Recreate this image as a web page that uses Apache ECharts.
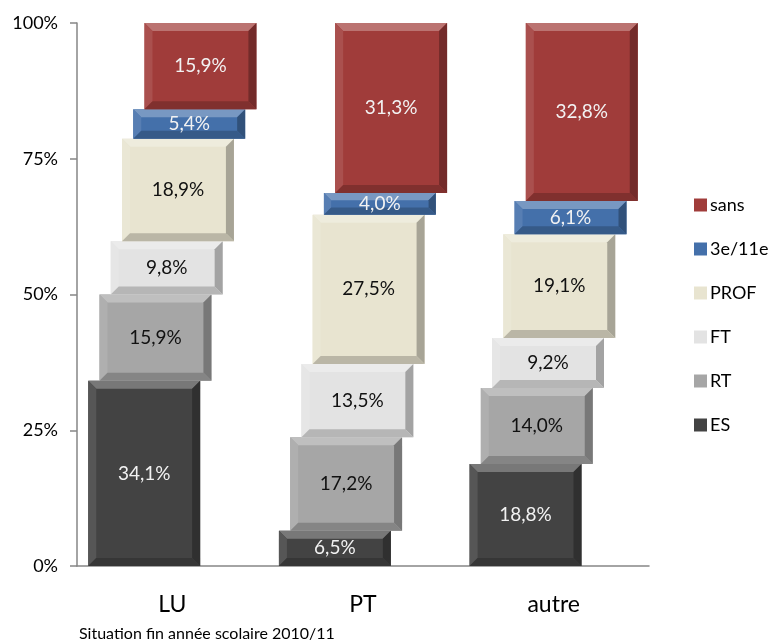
<!DOCTYPE html>
<html>
<head>
<meta charset="utf-8">
<script src="https://cdn.jsdelivr.net/npm/echarts@6/dist/echarts.min.js"></script>
<style>
html, body { margin: 0; padding: 0; background: #fff; }
#chart { width: 781px; height: 641px; }
</style>
</head>
<body>
<div id="chart"></div>
<script>
// categories and values (percent)
var categories = ['LU', 'PT', 'autre'];
var seriesNames = ['ES', 'RT', 'FT', 'PROF', '3e/11e', 'sans'];
var esVals = [34.1, 6.5, 18.8];
var rtVals = [15.9, 17.2, 14.0];
var ftVals = [9.8, 13.5, 9.2];
var profVals = [18.9, 27.5, 19.1];
var e3Vals = [5.4, 4.0, 6.1];
var sansVals = [15.9, 31.3, 32.8];
var yTicks = [0, 25, 50, 75, 100];

var allVals = [esVals, rtVals, ftVals, profVals, e3Vals, sansVals];
var colors = ['#434343', '#a6a6a6', '#e3e3e3', '#e8e4d0', '#4470aa', '#a03c3a'];
var textColors = ['#f2f2f2', '#111', '#111', '#111', '#f2f2f2', '#f2f2f2'];
var fontName = 'Lato';

// mix a hex color with white (t>0) or black (t<0)
function shade(hex, t) {
    var n = parseInt(hex.slice(1), 16);
    var c = [(n >> 16) & 255, (n >> 8) & 255, n & 255];
    var out = c.map(function (v) {
        return Math.round(t > 0 ? v + (255 - v) * t : v * (1 + t));
    });
    return 'rgb(' + out.join(',') + ')';
}

var barW = 0.587;   // bar width, share of category band
var step = 0.059;   // sideways shift between stacked segments

function renderItem(params, api) {
    var si = params.seriesIndex;
    var cat = api.value(0);
    var p0 = api.coord([cat, api.value(1)]);
    var p1 = api.coord([cat, api.value(2)]);
    var band = api.size([1, 0])[0];
    var w = barW * band;
    var x = p0[0] + (si - 2.5) * step * band - w / 2;
    var y = p1[1];
    var h = p0[1] - p1[1];
    var b = Math.min(8, h / 3, w / 3);
    var col = colors[si];
    return {
        type: 'group',
        children: [
            { type: 'rect', shape: { x: x, y: y, width: w, height: h }, style: { fill: col } },
            { type: 'polygon', shape: { points: [[x, y], [x + w, y], [x + w - b, y + b], [x + b, y + b]] }, style: { fill: shade(col, 0.28) } },
            { type: 'polygon', shape: { points: [[x, y], [x + b, y + b], [x + b, y + h - b], [x, y + h]] }, style: { fill: shade(col, 0.1) } },
            { type: 'polygon', shape: { points: [[x + w, y], [x + w, y + h], [x + w - b, y + h - b], [x + w - b, y + b]] }, style: { fill: shade(col, -0.28) } },
            { type: 'polygon', shape: { points: [[x, y + h], [x + w, y + h], [x + w - b, y + h - b], [x + b, y + h - b]] }, style: { fill: shade(col, -0.2) } },
            {
                type: 'text',
                style: {
                    x: x + w / 2, y: y + h / 2,
                    text: api.value(3).toFixed(1).replace('.', ',') + '%',
                    fill: textColors[si],
                    font: '19px ' + fontName,
                    align: 'center', verticalAlign: 'middle'
                }
            }
        ]
    };
}

// build stacked data: [cat, start, end, value]
var base = [0, 0, 0];
var series = seriesNames.map(function (name, si) {
    var data = categories.map(function (c, ci) {
        var v = allVals[si][ci];
        var d = [ci, base[ci], base[ci] + v, v];
        base[ci] += v;
        return d;
    });
    return {
        name: name,
        type: 'custom',
        renderItem: renderItem,
        itemStyle: { color: colors[si] },
        encode: { x: 0, y: [1, 2] },
        data: data
    };
});

var myChart = echarts.init(document.getElementById('chart'));
myChart.setOption({
    animation: false,
    title: {
        text: 'Situation fin année scolaire 2010/11',
        left: 74,
        top: 621,
        textStyle: { fontFamily: fontName, fontSize: 16, fontWeight: 'normal', color: '#000' }
    },
    grid: { left: 77, right: 132, top: 23, bottom: 75 },
    legend: {
        orient: 'vertical',
        left: 689,
        top: 190,
        icon: 'rect',
        itemWidth: 13,
        itemHeight: 13,
        itemGap: 24,
        data: seriesNames.slice().reverse(),
        textStyle: { fontFamily: fontName, fontSize: 18, color: '#000', lineHeight: 20, padding: [0, 0, 0, -2] }
    },
    xAxis: {
        type: 'category',
        data: categories,
        axisLine: { lineStyle: { color: '#868686', width: 1.5 } },
        axisTick: { length: 8, lineStyle: { color: '#868686', width: 1.5 } },
        axisLabel: { margin: 27, fontFamily: fontName, fontSize: 23, color: '#000' }
    },
    yAxis: {
        type: 'value',
        min: yTicks[0],
        max: yTicks[yTicks.length - 1],
        interval: 25,
        splitLine: { show: false },
        axisLine: { show: true, lineStyle: { color: '#868686', width: 1.5 } },
        axisTick: { show: true, length: 7, lineStyle: { color: '#868686', width: 1.5 } },
        axisLabel: { margin: 19, formatter: '{value}%', fontFamily: fontName, fontSize: 18, color: '#000' }
    },
    series: series
});
</script>
</body>
</html>
